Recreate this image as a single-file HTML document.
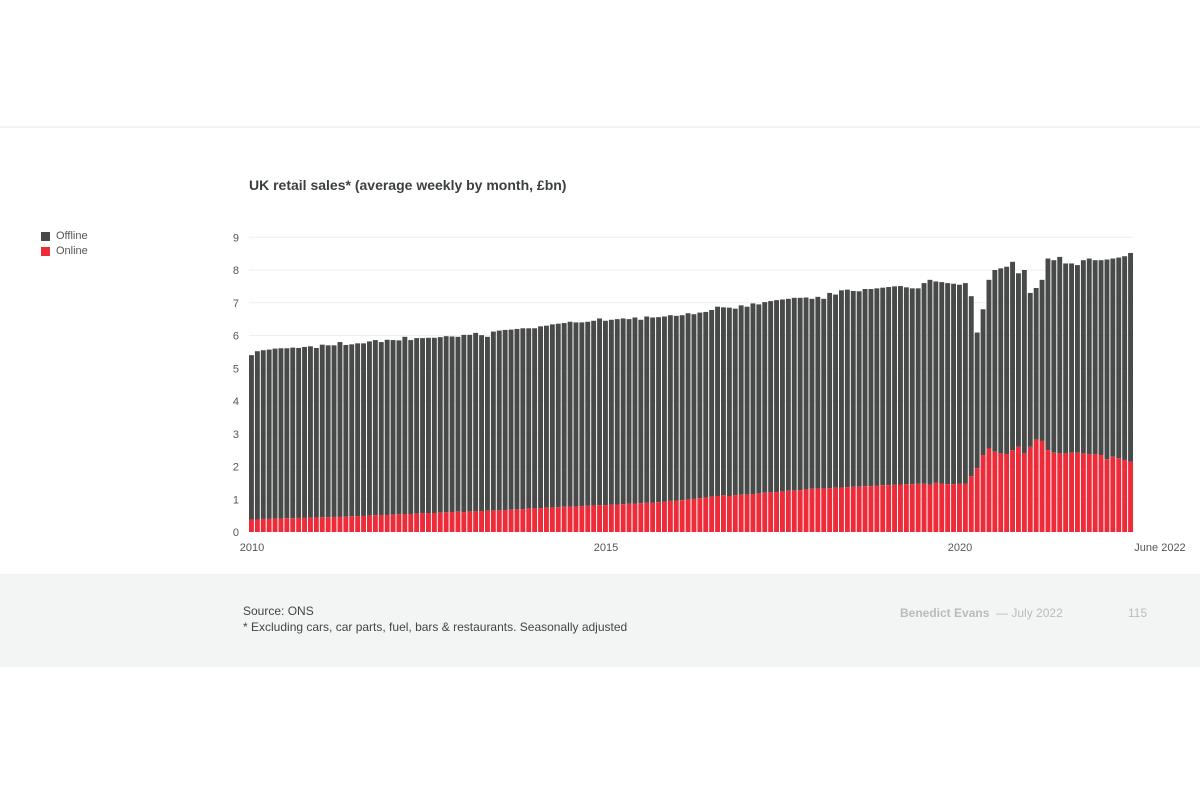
<!DOCTYPE html>
<html><head><meta charset="utf-8"><style>
body{margin:0;width:1200px;height:800px;background:#fff;font-family:"Liberation Sans",sans-serif;position:relative;overflow:hidden}
.t{position:absolute;white-space:nowrap}
</style></head><body>
<div style="position:absolute;left:0;top:126px;width:1200px;height:2px;background:#f1f3f2"></div>
<div class="t" style="left:249px;top:177px;font-size:14px;font-weight:bold;color:#3b403e">UK retail sales* (average weekly by month, £bn)</div>
<div>
<div style="position:absolute;left:41px;top:232px;width:9px;height:9px;background:#474a48"></div>
<div class="t" style="left:56px;top:230px;font-size:11px;color:#555">Offline</div>
<div style="position:absolute;left:41px;top:247px;width:9px;height:9px;background:#ee2b38"></div>
<div class="t" style="left:56px;top:245px;font-size:11px;color:#555">Online</div>
</div>
<svg id="chart" width="1200" height="800" style="position:absolute;left:0;top:0"></svg>
<div style="position:absolute;left:0;top:574px;width:1200px;height:93px;background:#f3f5f4"></div>
<div class="t" style="left:243px;top:604px;font-size:12px;color:#444">Source: ONS</div>
<div class="t" style="left:243px;top:620px;font-size:12px;color:#444">* Excluding cars, car parts, fuel, bars &amp; restaurants. Seasonally adjusted</div>
<div class="t" style="left:900px;top:606px;font-size:12px;color:#b9bcbb"><b style="font-weight:bold">Benedict Evans</b> &nbsp;— July 2022</div>
<div class="t" style="left:1128px;top:606px;font-size:12px;color:#b9bcbb">115</div>
<script>
const totals=[5.40,5.52,5.55,5.57,5.60,5.61,5.61,5.63,5.62,5.65,5.67,5.62,
5.72,5.70,5.70,5.80,5.71,5.73,5.76,5.76,5.82,5.86,5.80,5.87,
5.86,5.85,5.96,5.86,5.92,5.92,5.93,5.93,5.95,5.98,5.97,5.96,
6.02,6.02,6.08,6.01,5.96,6.12,6.15,6.17,6.18,6.20,6.22,6.22,
6.22,6.28,6.30,6.34,6.36,6.38,6.42,6.40,6.40,6.42,6.45,6.52,
6.45,6.48,6.50,6.52,6.50,6.55,6.48,6.58,6.55,6.56,6.58,6.62,
6.60,6.62,6.68,6.65,6.70,6.72,6.78,6.88,6.86,6.85,6.82,6.92,
6.88,6.98,6.95,7.02,7.05,7.08,7.10,7.12,7.15,7.15,7.16,7.12,
7.18,7.12,7.30,7.25,7.38,7.40,7.36,7.35,7.42,7.42,7.44,7.46,
7.48,7.50,7.51,7.47,7.44,7.44,7.60,7.70,7.65,7.63,7.60,7.58,
7.55,7.60,7.20,6.09,6.80,7.70,8.00,8.05,8.10,8.25,7.90,8.00,
7.30,7.45,7.70,8.35,8.30,8.40,8.20,8.20,8.15,8.30,8.35,8.30,
8.30,8.32,8.35,8.38,8.42,8.52];
const online=[.38,.38,.40,.40,.41,.41,.42,.42,.43,.43,.44,.44,
.45,.45,.46,.46,.47,.48,.48,.49,.50,.51,.52,.52,
.53,.54,.55,.55,.56,.57,.58,.58,.59,.60,.61,.62,
.60,.62,.63,.64,.65,.66,.66,.67,.68,.69,.70,.72,
.72,.73,.74,.75,.76,.77,.78,.78,.79,.80,.81,.82,
.82,.83,.84,.85,.86,.87,.88,.89,.90,.91,.92,.95,
.95,.97,.99,1.01,1.03,1.05,1.08,1.10,1.12,1.10,1.12,1.14,
1.14,1.16,1.18,1.20,1.21,1.22,1.24,1.26,1.27,1.28,1.30,1.32,
1.32,1.33,1.34,1.35,1.36,1.37,1.38,1.38,1.40,1.40,1.42,1.43,
1.43,1.44,1.45,1.46,1.46,1.47,1.47,1.44,1.50,1.48,1.46,1.46,
1.47,1.48,1.70,1.95,2.35,2.55,2.45,2.40,2.38,2.50,2.60,2.40,
2.60,2.82,2.78,2.50,2.42,2.40,2.40,2.42,2.42,2.40,2.38,2.38,
2.35,2.22,2.30,2.25,2.20,2.15];
const yTicks=[0,1,2,3,4,5,6,7,8,9];
const xLabels=["2010","2015","2020","June 2022"];
const xLabelIdx=[0,60,120,149];
const svg=document.getElementById('chart');
const NS='http://www.w3.org/2000/svg';
const X0=249,X1=1134,Y0=532,YPX=32.75;
const bw=(X1-X0)/totals.length;
const y=v=>Y0-v*YPX;
const x=i=>X0+i*bw;
function mk(t,a){const e=document.createElementNS(NS,t);for(const k in a)e.setAttribute(k,a[k]);svg.appendChild(e);return e;}
yTicks.forEach(v=>{
  if(v>0){const g=mk('line',{x1:X0,x2:X1,y1:y(v),y2:y(v),stroke:'#eef0ef','stroke-width':1});
  
  }
  const t=mk('text',{x:239,y:y(v)+4,'text-anchor':'end','font-size':11,fill:'#555','font-family':'Liberation Sans, sans-serif'});
  t.textContent=v;
  
  
});
totals.forEach((tv,i)=>{
  const r=mk('rect',{x:x(i),y:y(tv),width:bw-1,height:(tv-online[i])*YPX,fill:'#474a48'});
  
  
  const r2=mk('rect',{x:x(i),y:y(online[i]),width:bw-1,height:online[i]*YPX,fill:'#ee2b38'});
  
  
});
xLabels.forEach((l,k)=>{
  const i=xLabelIdx[k];
  const last=k===xLabels.length-1;
  const t=mk('text',{x:last?x(i+1)+26:x(i)+3,y:551,'text-anchor':'middle','font-size':11,fill:'#555','font-family':'Liberation Sans, sans-serif'});
  t.textContent=l;
  
  
});
</script>
</body></html>
